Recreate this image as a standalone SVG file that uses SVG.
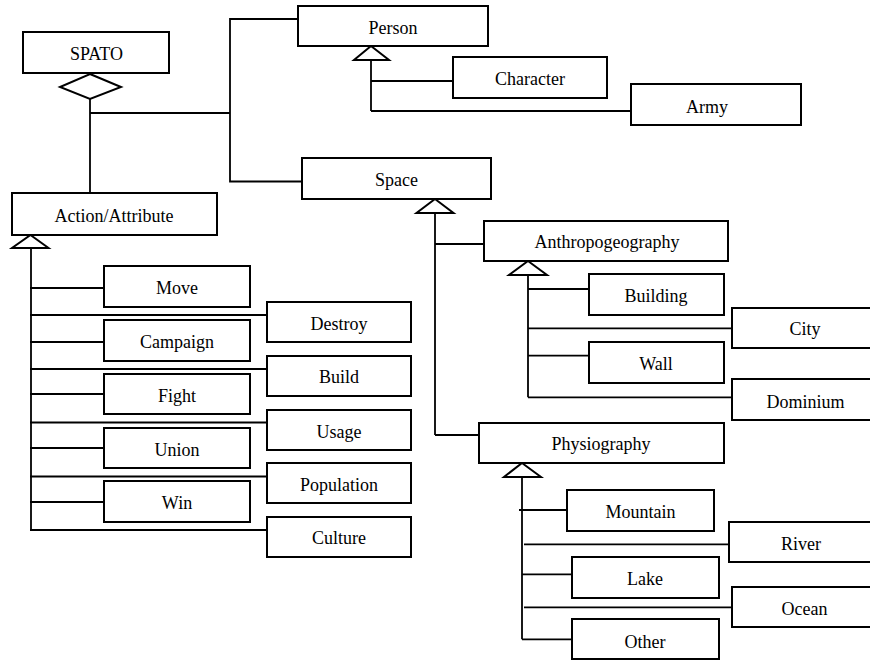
<svg xmlns="http://www.w3.org/2000/svg" width="870" height="660" viewBox="0 0 870 660">
<style>
.box{fill:#fff;stroke:#000;stroke-width:2}
.t{font-family:"Liberation Serif","Times New Roman",serif;font-size:18px;fill:#000;text-anchor:middle}
.c line,.c polyline{stroke:#000;stroke-width:1.8;fill:none}
.c polygon{fill:#fff;stroke:#000;stroke-width:2}
</style>
<rect width="870" height="660" fill="#fff"/>
<g class="c" id="connectors">
<line x1="90" y1="99" x2="90" y2="193"/>
<line x1="90" y1="113" x2="230" y2="113"/>
<polyline points="298,19 230,19 230,181.5 302,181.5"/>
<polygon points="90,74 121,87 90,99 60,87"/>
<line x1="371" y1="60" x2="371" y2="111"/>
<line x1="371" y1="81" x2="453" y2="81"/>
<line x1="371" y1="111" x2="631" y2="111"/>
<polygon points="371,46 389,60 354,60"/>
<line x1="31" y1="248" x2="31" y2="530"/>
<line x1="30" y1="288" x2="104" y2="288"/>
<line x1="30" y1="315" x2="267" y2="315"/>
<line x1="30" y1="342" x2="104" y2="342"/>
<line x1="30" y1="369" x2="267" y2="369"/>
<line x1="30" y1="394" x2="104" y2="394"/>
<line x1="30" y1="422.5" x2="267" y2="422.5"/>
<line x1="30" y1="448" x2="104" y2="448"/>
<line x1="30" y1="476.5" x2="267" y2="476.5"/>
<line x1="30" y1="502" x2="104" y2="502"/>
<line x1="30" y1="530" x2="267" y2="530"/>
<polygon points="30.5,235 48.5,248 12,248"/>
<line x1="435" y1="213" x2="435" y2="435"/>
<line x1="435" y1="244" x2="484" y2="244"/>
<line x1="435" y1="435" x2="479" y2="435"/>
<polygon points="435,199 453.5,213 416.5,213"/>
<line x1="528" y1="275" x2="528" y2="397.3"/>
<line x1="528" y1="289" x2="589" y2="289"/>
<line x1="528" y1="328.3" x2="732" y2="328.3"/>
<line x1="528" y1="355.7" x2="589" y2="355.7"/>
<line x1="528" y1="397.3" x2="732" y2="397.3"/>
<polygon points="528,261 547,275 509,275"/>
<line x1="522" y1="477" x2="522" y2="639.3"/>
<line x1="519" y1="510" x2="567" y2="510"/>
<line x1="524" y1="544.3" x2="729" y2="544.3"/>
<line x1="522" y1="574.3" x2="572" y2="574.3"/>
<line x1="524" y1="607.3" x2="732" y2="607.3"/>
<line x1="522" y1="639.3" x2="572" y2="639.3"/>
<polygon points="522,463 541,477 504,477"/>
</g>
<g id="spato"><rect class="box" x="23" y="32" width="146" height="41"/><text class="t" x="96.5" y="59.5">SPATO</text></g>
<g id="person"><rect class="box" x="298" y="6" width="190" height="40"/><text class="t" x="393" y="33.5">Person</text></g>
<g id="character"><rect class="box" x="453" y="57" width="154" height="41"/><text class="t" x="530" y="85">Character</text></g>
<g id="army"><rect class="box" x="631" y="84" width="170" height="41"/><text class="t" x="707" y="113">Army</text></g>
<g id="space"><rect class="box" x="302" y="158" width="189" height="41"/><text class="t" x="396.5" y="185.5">Space</text></g>
<g id="action"><rect class="box" x="12" y="193" width="205" height="42"/><text class="t" x="114" y="221.5">Action/Attribute</text></g>
<g id="move"><rect class="box" x="104" y="266" width="146" height="41"/><text class="t" x="177" y="294">Move</text></g>
<g id="destroy"><rect class="box" x="267" y="302" width="144" height="40"/><text class="t" x="339" y="330">Destroy</text></g>
<g id="campaign"><rect class="box" x="104" y="320" width="146" height="41"/><text class="t" x="177" y="347.5">Campaign</text></g>
<g id="build"><rect class="box" x="267" y="356" width="144" height="40"/><text class="t" x="339" y="382.5">Build</text></g>
<g id="fight"><rect class="box" x="104" y="374" width="146" height="40"/><text class="t" x="177" y="401.5">Fight</text></g>
<g id="usage"><rect class="box" x="267" y="410" width="144" height="40"/><text class="t" x="339" y="437.5">Usage</text></g>
<g id="union"><rect class="box" x="104" y="428" width="146" height="40"/><text class="t" x="177" y="455.5">Union</text></g>
<g id="population"><rect class="box" x="267" y="463" width="144" height="40"/><text class="t" x="339" y="490.5">Population</text></g>
<g id="win"><rect class="box" x="104" y="481" width="146" height="41"/><text class="t" x="177" y="508.5">Win</text></g>
<g id="culture"><rect class="box" x="267" y="517" width="144" height="40"/><text class="t" x="339" y="544">Culture</text></g>
<g id="anthropogeography"><rect class="box" x="484" y="221" width="244" height="40"/><text class="t" x="607" y="248">Anthropogeography</text></g>
<g id="building"><rect class="box" x="589" y="274" width="135" height="41"/><text class="t" x="656" y="302">Building</text></g>
<g id="city"><rect class="box" x="732" y="308" width="150" height="40"/><text class="t" x="805" y="335">City</text></g>
<g id="wall"><rect class="box" x="589" y="342" width="135" height="41"/><text class="t" x="656" y="370">Wall</text></g>
<g id="dominium"><rect class="box" x="732" y="379" width="150" height="41"/><text class="t" x="805.5" y="408">Dominium</text></g>
<g id="physiography"><rect class="box" x="479" y="423" width="245" height="40"/><text class="t" x="601" y="450">Physiography</text></g>
<g id="mountain"><rect class="box" x="567" y="490" width="147" height="41"/><text class="t" x="640.5" y="517.5">Mountain</text></g>
<g id="river"><rect class="box" x="729" y="522" width="150" height="40"/><text class="t" x="801" y="550">River</text></g>
<g id="lake"><rect class="box" x="572" y="557" width="147" height="41"/><text class="t" x="645" y="585">Lake</text></g>
<g id="ocean"><rect class="box" x="732" y="587" width="150" height="40"/><text class="t" x="804.5" y="615">Ocean</text></g>
<g id="other"><rect class="box" x="572" y="619" width="147" height="40"/><text class="t" x="645" y="647.5">Other</text></g>
</svg>
